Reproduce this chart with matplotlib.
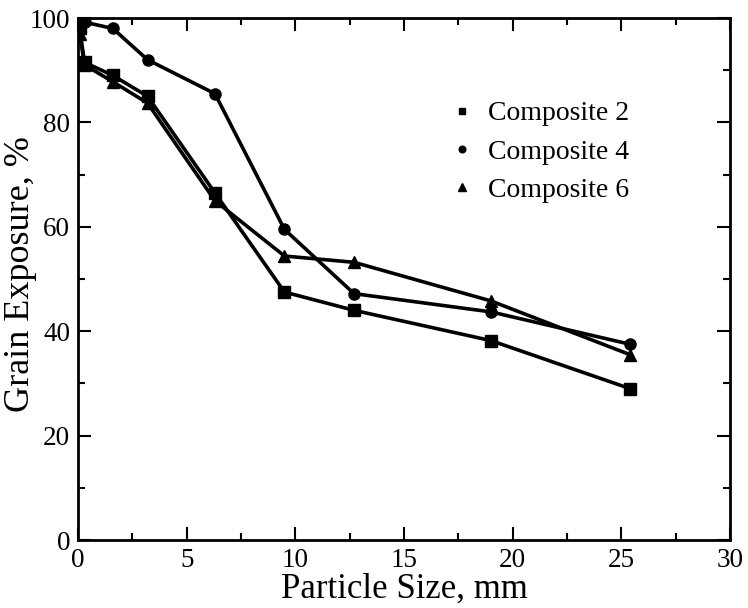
import matplotlib
matplotlib.use("Agg")
import matplotlib.pyplot as plt
from matplotlib.ticker import MultipleLocator

plt.rcParams['font.family'] = ['Liberation Serif', 'DejaVu Serif']

size_mm = [0.075, 0.3, 1.6, 3.2, 6.3, 9.5, 12.7, 19.0, 25.4]
comp2 = [98.0, 91.5, 89.0, 85.0, 66.5, 47.5, 44.0, 38.2, 29.0]
comp4 = [99.6, 99.2, 98.0, 92.0, 85.5, 59.5, 47.2, 43.7, 37.5]
comp6 = [97.0, 91.0, 87.8, 83.7, 65.0, 54.4, 53.2, 45.8, 35.5]
labels = ['Composite 2', 'Composite 4', 'Composite 6']

W, H = 748, 608
fig = plt.figure(figsize=(W / 100, H / 100), dpi=100)
ax = fig.add_axes([78 / W, 1 - 540 / H, (730 - 78) / W, (540 - 18) / H])

ax.plot(size_mm, comp2, color='black', lw=2.6, marker='s', ms=8, label=labels[0])
ax.plot(size_mm, comp4, color='black', lw=2.6, marker='o', ms=8, label=labels[1])
ax.plot(size_mm, comp6, color='black', lw=2.6, marker='^', ms=9, label=labels[2])

ax.set_xlim(0, 30)
ax.set_ylim(0, 100)
ax.xaxis.set_major_locator(MultipleLocator(5))
ax.xaxis.set_minor_locator(MultipleLocator(2.5))
ax.yaxis.set_major_locator(MultipleLocator(20))
ax.yaxis.set_minor_locator(MultipleLocator(10))
ax.tick_params(which='both', direction='in', top=True, right=True, labelsize=19.5, width=1.5)
ax.tick_params(which='major', length=9.5)
ax.tick_params(which='minor', length=5)
ax.tick_params(axis='y', pad=5.5)
ax.tick_params(axis='x', pad=5.5)
for s in ax.spines.values():
    s.set_linewidth(2)

ax.set_xlabel('Particle Size, mm', fontsize=25, labelpad=0)
ax.set_ylabel('Grain Exposure, %', fontsize=26)
ax.yaxis.set_label_coords((37 - 78) / 652, (540 - 274) / 522)

leg = ax.legend(loc='upper left', bbox_to_anchor=(451 / W, 1 - 101 / H),
                bbox_transform=fig.transFigure, frameon=False, borderpad=0,
                borderaxespad=0, fontsize=20, handlelength=0.8, handletextpad=0.55,
                labelspacing=0.46, markerscale=0.6)
for h in leg.legend_handles:
    h.set_linestyle('None')

fig.savefig('out.png', dpi=100)
